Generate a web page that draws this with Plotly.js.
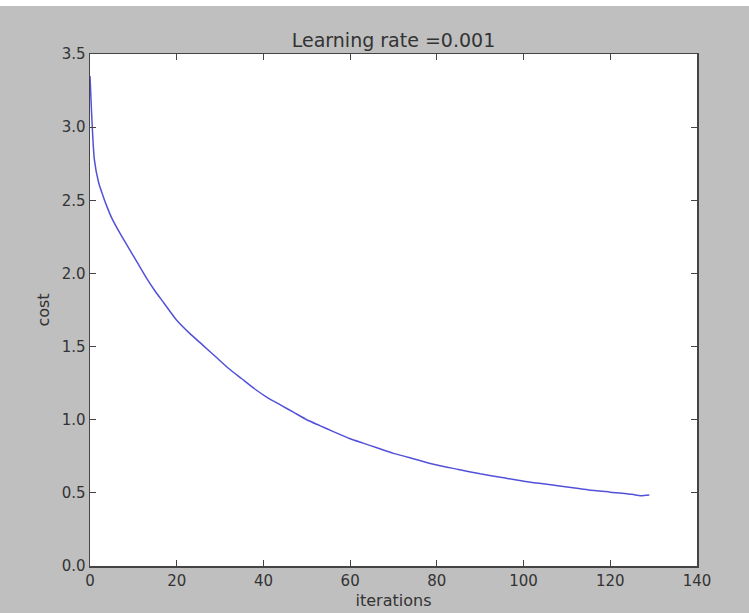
<!DOCTYPE html>
<html>
<head>
<meta charset="utf-8">
<script src="https://cdn.plot.ly/plotly-3.0.1.min.js"></script>
<style>
  html, body { margin: 0; padding: 0; background: #ffffff; }
  #chart { position: absolute; left: 0; top: 6px; width: 749px; height: 607px; }
</style>
</head>
<body>
<div id="chart"></div>
<script>
const iterations = [0, 1, 2, 3, 4, 5, 7, 9, 11, 13, 15, 17, 20, 23, 26, 29, 32, 35, 38, 41, 44, 47, 50, 53, 56, 60, 63, 66, 70, 75, 80, 85, 90, 95, 100, 105, 110, 115, 120, 125, 127, 129];
const costs = [3.35, 2.78, 2.62, 2.53, 2.45, 2.38, 2.27, 2.17, 2.07, 1.97, 1.88, 1.80, 1.68, 1.59, 1.51, 1.43, 1.35, 1.28, 1.21, 1.15, 1.10, 1.05, 1.00, 0.96, 0.92, 0.87, 0.84, 0.81, 0.77, 0.73, 0.69, 0.66, 0.63, 0.605, 0.58, 0.56, 0.54, 0.52, 0.505, 0.49, 0.48, 0.485];
const xTicks = [0, 20, 40, 60, 80, 100, 120, 140];
const yTicks = [0.0, 0.5, 1.0, 1.5, 2.0, 2.5, 3.0, 3.5];
const chartTitle = 'Learning rate =0.001';
const xLabel = 'iterations';
const yLabel = 'cost';

const font = 'DejaVu Sans, sans-serif';
const axisCommon = {
  showgrid: false, zeroline: false, showline: true, linecolor: '#444', linewidth: 1.5,
  mirror: 'allticks', ticks: 'inside', ticklen: 6, tickcolor: '#444', tickwidth: 1,
  tickfont: {family: font, size: 15, color: '#333'}, fixedrange: true
};

Plotly.newPlot('chart', [{
  x: iterations, y: costs, type: 'scatter', mode: 'lines',
  line: {color: '#5252d8', width: 1.5, shape: 'spline', smoothing: 0.6}, hoverinfo: 'skip'
}], {
  width: 749, height: 607,
  paper_bgcolor: '#bfbfbf', plot_bgcolor: '#ffffff',
  margin: {l: 90, r: 52, t: 48, b: 47},
  showlegend: false,
  title: {text: chartTitle, font: {family: font, size: 19, color: '#333'},
          x: 0.5, xref: 'paper', y: 1, yref: 'paper', yanchor: 'bottom', pad: {b: 7}},
  xaxis: Object.assign({}, axisCommon, {
    range: [0, 140], tickvals: xTicks, ticktext: xTicks.map(String),
    title: {text: xLabel, font: {family: font, size: 16, color: '#333'}, standoff: 6}
  }),
  yaxis: Object.assign({}, axisCommon, {
    range: [0, 3.5], tickvals: yTicks, ticktext: yTicks.map(v => v.toFixed(1)),
    title: {text: yLabel, font: {family: font, size: 16, color: '#333'}, standoff: 8}
  })
}, {displayModeBar: false, staticPlot: true});
</script>
</body>
</html>
